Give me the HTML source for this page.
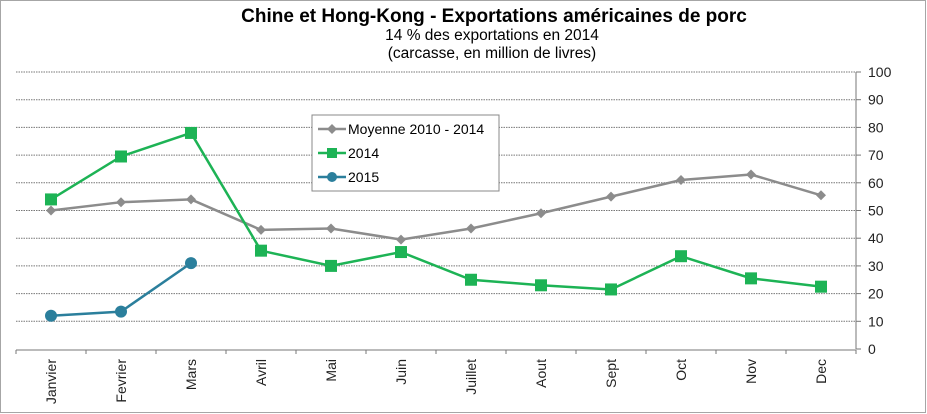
<!DOCTYPE html>
<html><head><meta charset="utf-8"><style>
body{margin:0;background:#fff}
svg{display:block;font-family:"Liberation Sans",sans-serif}
</style></head><body>
<svg id="c" width="927" height="414">
<rect x="0.5" y="0.5" width="925" height="412" fill="#fff" stroke="#a6a6a6"/>
<text x="494" y="22" text-anchor="middle" font-size="19" font-weight="bold">Chine et Hong-Kong - Exportations américaines de porc</text>
<text x="492" y="40" text-anchor="middle" font-size="15.5">14 % des exportations en 2014</text>
<text x="492" y="58" text-anchor="middle" font-size="15.5">(carcasse, en million de livres)</text>
<g id="grid"></g><g id="axes"></g><g id="series"></g>
<g>
<rect x="312" y="115" width="187" height="76" fill="#fff" stroke="#888"/>
<g><line x1="318" y1="129" x2="346" y2="129" stroke="#8c8c8c" stroke-width="2.5"/><path d="M332 124l5 5-5 5-5-5z" fill="#8c8c8c"/><text x="348" y="134" font-size="14">Moyenne 2010 - 2014</text></g>
<g><line x1="318" y1="153" x2="346" y2="153" stroke="#1db355" stroke-width="2.5"/><rect x="327" y="148" width="10" height="10" fill="#1db355"/><text x="348" y="158" font-size="14">2014</text></g>
<g><line x1="318" y1="177" x2="346" y2="177" stroke="#2b7f9c" stroke-width="2.5"/><circle cx="332" cy="177" r="5" fill="#2b7f9c"/><text x="348" y="182" font-size="14">2015</text></g>
</g>
</svg>
<script>
const categories=["Janvier","Fevrier","Mars","Avril","Mai","Juin","Juillet","Aout","Sept","Oct","Nov","Dec"];
const moyenne=[50,53,54,43,43.5,39.5,43.5,49,55,61,63,55.5];
const y2014=[54,69.5,78,35.5,30,35,25,23,21.5,33.5,25.5,22.5];
const y2015=[12,13.5,31];
const yTicks=[0,10,20,30,40,50,60,70,80,90,100];
const NS="http://www.w3.org/2000/svg";
const L=16,R=856,T=72,B=349;
const bw=(R-L)/categories.length;
const xs=i=>L+bw*(i+0.5);
const ys=v=>B-(v/100)*(B-T);
function mk(tag,attrs,parent){const e=document.createElementNS(NS,tag);for(const k in attrs)e.setAttribute(k,attrs[k]);document.getElementById(parent).appendChild(e);return e;}
yTicks.forEach(t=>{
 if(t>0){const g=mk('line',{x1:L,x2:R,y1:ys(t),y2:ys(t),stroke:'#777','stroke-dasharray':'1.5 1','stroke-width':1},'grid');
 
 }
 const tk=mk('line',{x1:R,x2:R+5,y1:ys(t),y2:ys(t),stroke:'#777'},'axes');
 
 
 const tx=mk('text',{x:R+12,y:ys(t)+5,'font-size':14,fill:'#222'},'axes');tx.textContent=t;
 
 
});
const ya=mk('line',{x1:R,x2:R,y1:T,y2:B,stroke:'#777'},'axes');


const xa=mk('line',{x1:L,x2:R,y1:B+1,y2:B+1,stroke:'#777'},'axes');


for(let i=0;i<=categories.length;i++){const tk=mk('line',{x1:L+bw*i,x2:L+bw*i,y1:B+1,y2:B+5,stroke:'#777'},'axes');
 
 }
categories.forEach((c,i)=>{const t=mk('text',{x:0,y:0,'font-size':14,fill:'#222','text-anchor':'end',transform:`translate(${xs(i)+5},${B+10}) rotate(-90)`},'axes');t.textContent=c;
 
 });
function series(vals,color,shape,name){
 const p=mk('polyline',{points:vals.map((v,i)=>xs(i)+','+ys(v)).join(' '),fill:'none',stroke:color,'stroke-width':2.5},'series');
 
 
 vals.forEach((v,i)=>{const x=xs(i),y=ys(v);let m;
  if(shape==='d')m=mk('path',{d:`M${x} ${y-5}l5 5-5 5-5-5z`,fill:color},'series');
  else if(shape==='s')m=mk('rect',{x:x-6,y:y-6,width:12,height:12,fill:color},'series');
  else m=mk('circle',{cx:x,cy:y,r:6,fill:color},'series');
  
  });
}
series(moyenne,'#8c8c8c','d','moyenne');
series(y2014,'#1db355','s','series-2014');
series(y2015,'#2b7f9c','c','series-2015');
</script>
</body></html>
